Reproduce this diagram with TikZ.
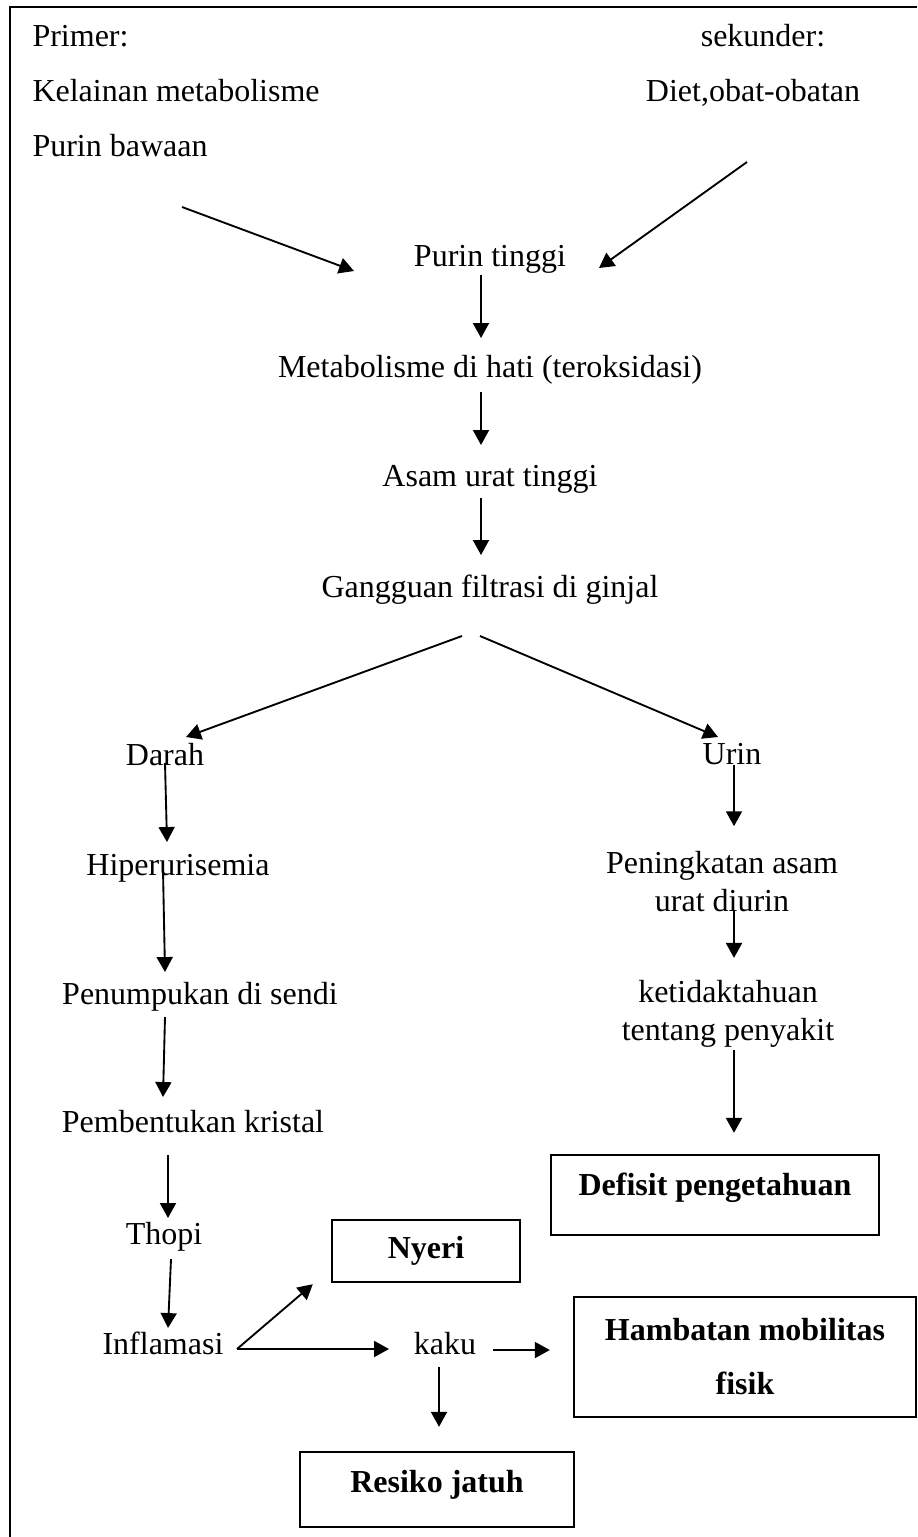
\documentclass[tikz,border=0pt]{standalone}
\usepackage{fontspec}
\setmainfont{Liberation Serif}
\usetikzlibrary{arrows.meta,calc}

\begin{document}
\begin{tikzpicture}[x=0.375pt, y=-0.375pt, >={Triangle[length=5.6pt,width=6pt]},
    font=\fontsize{12}{14.25}\selectfont,
    lbl/.style={inner sep=0pt, anchor=base},
    lblw/.style={inner sep=0pt, anchor=base west},
    box/.style={draw, line width=0.9pt, inner sep=0pt,
      font=\fontsize{12}{14.25}\selectfont\bfseries},
    arr/.style={->, line width=0.7pt}]
    \useasboundingbox (0,0) rectangle (917,1537);
    \draw[line width=0.8pt] (10,1537) -- (10,7) -- (917,7);
    \node[lblw] (primer) at (32,47) {Primer:};
    \node[lblw] (kelainan) at (32,102) {Kelainan metabolisme};
    \node[lblw] (bawaan) at (32,157) {Purin bawaan};
    \node[lbl] (sekunder) at (763,47) {sekunder:};
    \node[lbl] (diet) at (753,102) {Diet,obat-obatan};
    \node[lbl] (purin) at (490,267) {Purin tinggi};
    \node[lbl] (metab) at (490,377) {Metabolisme di hati (teroksidasi)};
    \node[lbl] (asam) at (490,486) {Asam urat tinggi};
    \node[lbl] (ginjal) at (490,597) {Gangguan filtrasi di ginjal};
    \node[lbl] (darah) at (165,765) {Darah};
    \node[lbl] (hiper) at (178,875) {Hiperurisemia};
    \node[lbl] (sendi) at (200,1004) {Penumpukan di sendi};
    \node[lbl] (kristal) at (193,1132) {Pembentukan kristal};
    \node[lbl] (thopi) at (164,1244) {Thopi};
    \node[lbl] (inflam) at (163,1354) {Inflamasi};
    \node[lbl] (kaku) at (445,1354) {kaku};
    \node[lbl] (urin) at (732,764) {Urin};
    \node[inner sep=0pt, align=center] (naik) at (722,882)
      {Peningkatan asam\\urat diurin};
    \node[inner sep=0pt, align=center] (tahu) at (728,1014)
      {ketidaktahuan\\tentang penyakit};
    \node[box, minimum width=123pt, text height=15pt, text depth=15pt]
      (defisit) at (715,1195) {Defisit pengetahuan};
    \node[box, minimum width=70.5pt, minimum height=23.25pt]
      (nyeri) at (426,1251) {Nyeri};
    \node[box, align=center, minimum width=128.25pt, minimum height=45pt]
      (hambatan) at (745,1357) {Hambatan mobilitas\\[6pt]fisik};
    \node[box, anchor=base, minimum width=102.75pt, text height=15pt,
      text depth=13.125pt] (resiko) at (437,1492) {Resiko jatuh};
    \draw[arr] ($(bawaan.base west)+(150,50)$) -- ($(purin.base)+(-136,4)$);
    \draw[arr] ($(diet.base)+(-6,60)$) -- ($(purin.base)+(109,1)$);
    \draw[arr] ($(purin.base)+(-9,8)$) -- ($(metab.base)+(-9,-39)$);
    \draw[arr] ($(metab.base)+(-9,15)$) -- ($(asam.base)+(-9,-41)$);
    \draw[arr] ($(asam.base)+(-9,12)$) -- ($(ginjal.base)+(-9,-42)$);
    \draw[arr] ($(ginjal.base)+(-28,39)$) -- ($(darah.base)+(21,-28)$);
    \draw[arr] ($(ginjal.base)+(-10,39)$) -- ($(urin.base)+(-14,-27)$);
    \draw[arr] ($(darah.base)+(0,-2)$) -- ($(hiper.base)+(-11,-33)$);
    \draw[arr] ($(hiper.base)+(-15,-5)$) -- ($(sendi.base)+(-35,-32)$);
    \draw[arr] ($(sendi.base)+(-35,13)$) -- ($(kristal.base)+(-30,-35)$);
    \draw[arr] ($(kristal.base)+(-25,23)$) -- ($(thopi.base)+(4,-26)$);
    \draw[arr] ($(thopi.base)+(7,15)$) -- ($(inflam.base)+(5,-26)$);
    \draw[arr] ($(inflam.base)+(74,-5)$) -- ($(nyeri.south west)+(-18,1)$);
    \draw[arr] ($(inflam.base)+(74,-5)$) -- ($(kaku.base)+(-56,-5)$);
    \draw[arr] ($(kaku.base)+(48,-4)$) -- ($(hambatan.west)+(-23,-7)$);
    \draw[arr] ($(kaku.base)+(-6,13)$) -- ($(resiko.north)+(2,-24)$);
    \draw[arr] ($(urin.base)+(2,1)$) -- ($(naik.north)+(12,-25)$);
    \draw[arr] ($(naik.south)+(12,-2)$) -- ($(tahu.north)+(6,-22)$);
    \draw[arr] ($(tahu.south)+(6,2)$) -- ($(defisit.north)+(19,-21)$);
\end{tikzpicture}
\end{document}
